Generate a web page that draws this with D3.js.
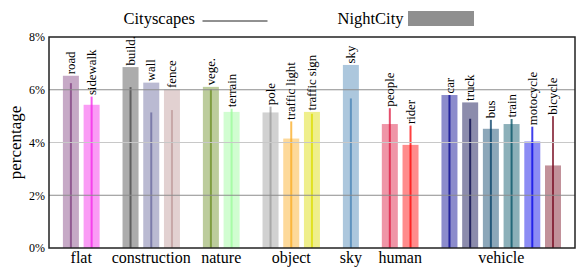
<html>
<script src="https://d3js.org/d3.v7.min.js"></script>
<style>
    body {
        margin: 0;
        background: white;
    }

    svg text {
        font-family: "Liberation Serif", "Times New Roman", serif;
        fill: black;
    }
</style>

<body>
    <svg id="chart"></svg>
    <script>
        // classes, left to right
        var classes = ["road", "sidewalk", "build.", "wall", "fence", "vege.", "terrain", "pole", "traffic light",
            "traffic sign", "sky", "people", "rider", "car", "truck", "bus", "train", "motocycle", "bicycle"];
        var groupNames = ["flat", "construction", "nature", "object", "sky", "human", "vehicle"];
        var groupIndex = [0, 0, 1, 1, 1, 2, 2, 3, 3, 3, 4, 5, 5, 6, 6, 6, 6, 6, 6];
        // NightCity share (bars) and Cityscapes share (thin lines), in %
        var nightCity = [6.53, 5.43, 6.86, 6.27, 6.01, 6.11, 5.16, 5.14, 4.15, 5.16, 6.94, 4.70, 3.91, 5.80, 5.52, 4.52, 4.70, 4.04, 3.13];
        var cityscapes = [6.25, 5.74, 6.10, 5.14, 5.23, 6.02, 5.28, 5.36, 4.80, 5.09, 5.67, 5.30, 4.64, 5.80, 4.90, 4.86, 4.89, 4.60, 5.00];
        var colors = ["rgb(128,64,128)", "rgb(244,35,232)", "rgb(70,70,70)", "rgb(102,102,156)", "rgb(190,153,153)",
            "rgb(107,142,35)", "rgb(152,251,152)", "rgb(153,153,153)", "rgb(250,170,30)", "rgb(220,220,0)",
            "rgb(70,130,180)", "rgb(220,20,60)", "rgb(255,0,0)", "rgb(0,0,142)", "rgb(0,0,70)", "rgb(0,60,100)",
            "rgb(0,80,100)", "rgb(0,0,230)", "rgb(119,11,32)"];
        var yTicks = [0, 2, 4, 6, 8];

        var W = 581, H = 273;
        var margin = { top: 37, right: 6, bottom: 25, left: 49 },
            width = W - margin.left - margin.right,
            height = H - margin.top - margin.bottom;

        var svg = d3.select("#chart")
            .attr("width", W)
            .attr("height", H);

        var g = svg.append("g")
            .attr("transform", "translate(" + margin.left + "," + margin.top + ")");

        // each group adds a little extra gap
        var groupGap = 0.88;
        var slot = classes.map(function (c, i) { return i + groupGap * groupIndex[i]; });
        var x = d3.scaleLinear()
            .domain([0, d3.max(slot)])
            .range([70.9 - margin.left, 553 - margin.left]);
        var barW = 16;

        var y = d3.scaleLinear()
            .domain([0, 8])
            .range([height, 0]);

        // bars (NightCity)
        g.selectAll(".bar")
            .data(classes)
            .enter()
            .append("rect")
            .attr("class", "bar")
            .attr("x", function (d, i) { return x(slot[i]) - barW / 2; })
            .attr("y", function (d, i) { return y(nightCity[i]); })
            .attr("width", barW)
            .attr("height", function (d, i) { return y(0) - y(nightCity[i]); })
            .attr("fill", function (d, i) { return colors[i]; })
            .attr("fill-opacity", 0.45);

        // lines (Cityscapes)
        g.selectAll(".cs")
            .data(classes)
            .enter()
            .append("rect")
            .attr("class", "cs")
            .attr("x", function (d, i) { return x(slot[i]) - 1; })
            .attr("y", function (d, i) { return y(cityscapes[i]); })
            .attr("width", 2)
            .attr("height", function (d, i) { return y(0) - y(cityscapes[i]); })
            .attr("fill", function (d, i) { return colors[i]; })
            .attr("fill-opacity", 0.75);

        // gridlines on top
        g.selectAll(".grid")
            .data(yTicks.filter(function (d) { return d > 0 && d < 8; }))
            .enter()
            .append("line")
            .attr("x1", 0)
            .attr("x2", width)
            .attr("y1", function (d) { return y(d); })
            .attr("y2", function (d) { return y(d); })
            .attr("stroke", function (d) { return d == 4 ? "#c8c8c8" : "#8c8c8c"; })
            .attr("stroke-width", 1);

        // frame
        g.append("rect")
            .attr("width", width)
            .attr("height", height)
            .attr("fill", "none")
            .attr("stroke", "#222")
            .attr("stroke-width", 1.5);

        // class labels
        g.selectAll(".lbl")
            .data(classes)
            .enter()
            .append("text")
            .attr("class", "lbl")
            .attr("transform", function (d, i) {
                var top = Math.max(nightCity[i], cityscapes[i]);
                return "translate(" + x(slot[i]) + "," + (y(top) - 1.5) + ") rotate(-90)";
            })
            .attr("dy", "0.33em")
            .style("font-size", "12.8px")
            .text(function (d) { return d; });

        // y axis
        var yAxis = g.append("g")
            .call(d3.axisLeft(y).tickValues(yTicks).tickSize(0).tickPadding(4)
                .tickFormat(function (d) { return d + "%"; }));
        yAxis.select(".domain").remove();
        yAxis.selectAll("text")
            .style("font-family", "Liberation Serif")
            .style("font-size", "12px");

        g.append("text")
            .attr("transform", "translate(" + (15 - margin.left) + "," + (height / 2) + ") rotate(-90)")
            .attr("text-anchor", "middle")
            .attr("dy", "0.35em")
            .style("font-size", "17px")
            .text("percentage");

        // group labels
        g.selectAll(".grp")
            .data(groupNames)
            .enter()
            .append("text")
            .attr("class", "grp")
            .attr("x", function (d, k) {
                var s = slot.filter(function (v, i) { return groupIndex[i] == k; });
                return x((d3.min(s) + d3.max(s)) / 2);
            })
            .attr("y", height + 15)
            .attr("text-anchor", "middle")
            .style("font-size", "16px")
            .text(function (d) { return d; });

        // legend
        svg.append("text")
            .attr("x", 123.5)
            .attr("y", 23.5)
            .style("font-size", "16.5px")
            .text("Cityscapes");
        svg.append("line")
            .attr("x1", 202.5)
            .attr("x2", 267.5)
            .attr("y1", 21)
            .attr("y2", 21)
            .attr("stroke", "#222")
            .attr("stroke-width", 1);
        svg.append("text")
            .attr("x", 337.5)
            .attr("y", 23.5)
            .style("font-size", "16.5px")
            .text("NightCity");
        svg.append("rect")
            .attr("x", 408)
            .attr("y", 11)
            .attr("width", 66)
            .attr("height", 15)
            .attr("fill", "#8f8f8f");
    </script>
</body>

</html>
